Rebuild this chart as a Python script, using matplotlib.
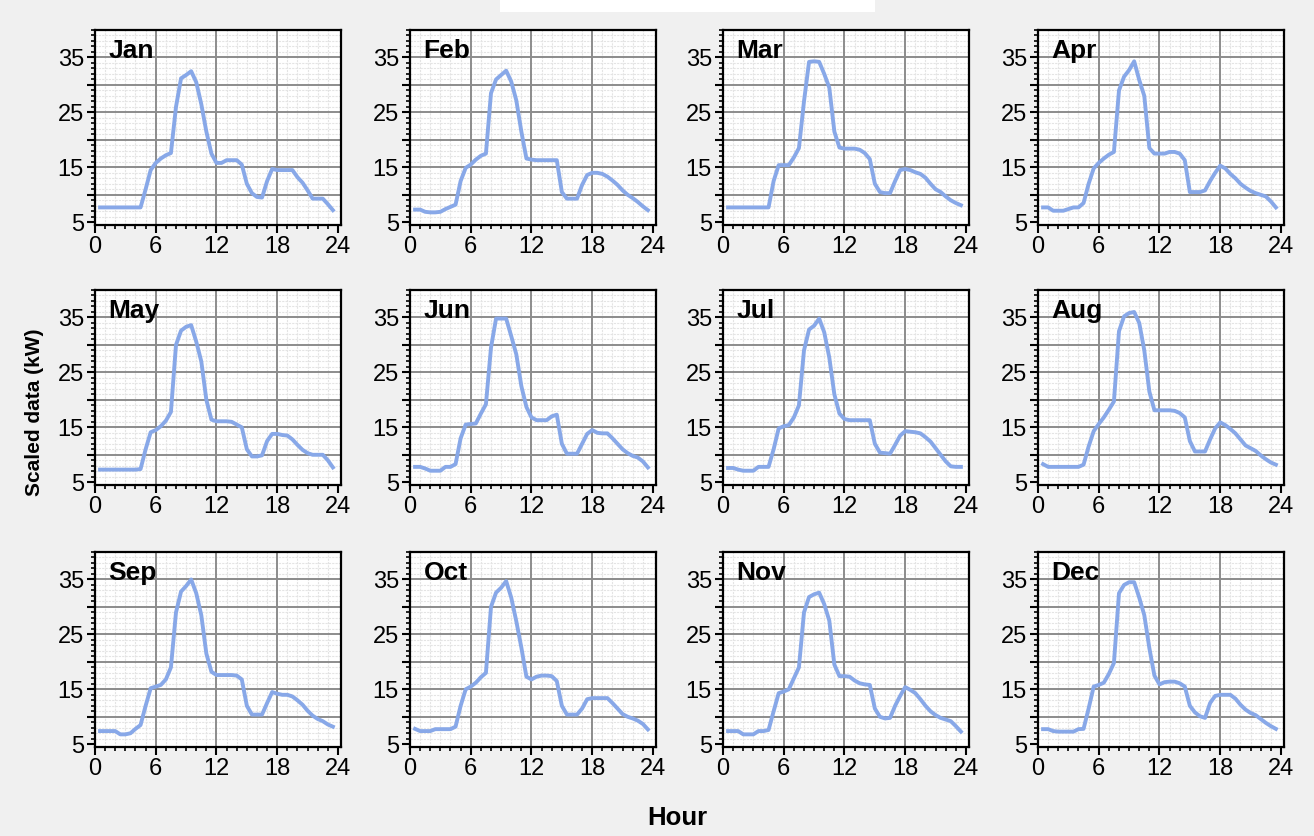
import numpy as np
import matplotlib
matplotlib.use('Agg')
import matplotlib.pyplot as plt
from matplotlib.patches import Rectangle
from matplotlib.ticker import FixedLocator

plt.rcParams['font.family'] = ['Liberation Sans', 'DejaVu Sans']

# half-hourly time stamps, 0.5 .. 23.5
hours = np.arange(0.5, 24, 0.5)

months = ['Jan', 'Feb', 'Mar', 'Apr', 'May', 'Jun',
          'Jul', 'Aug', 'Sep', 'Oct', 'Nov', 'Dec']

jan = [7.7, 7.7, 7.7, 7.7, 7.7, 7.7, 7.7, 7.7, 7.7, 11, 14.5, 15.8, 16.6, 17.2, 17.6, 26,
       31.2, 31.8, 32.5, 30.5, 26.5, 21.5, 17.5, 15.8, 15.8, 16.3, 16.3, 16.3, 15.5, 12, 10.3, 9.6,
       9.5, 12.5, 14.7, 14.5, 14.5, 14.5, 14.5, 13.2, 12.2, 10.8, 9.3, 9.3, 9.3, 8.3, 7.2]
feb = [7.3, 7.3, 6.9, 6.8, 6.8, 6.9, 7.4, 7.8, 8.2, 12.5, 14.9, 15.5, 16.4, 17.1, 17.5, 28.5,
       31, 31.8, 32.6, 30.6, 27.2, 21.5, 16.6, 16.4, 16.3, 16.3, 16.3, 16.3, 16.3, 10.5, 9.3, 9.3,
       9.3, 11.8, 13.6, 14, 14, 13.8, 13.3, 12.6, 11.8, 10.8, 10, 9.4, 8.7, 7.9, 7.2]
mar = [7.7, 7.7, 7.7, 7.7, 7.7, 7.7, 7.7, 7.7, 7.7, 12.5, 15.4, 15.4, 15.4, 16.8, 18.5, 27,
       34.2, 34.3, 34.2, 32, 29.5, 21.5, 18.6, 18.4, 18.4, 18.4, 18.2, 17.6, 16.5, 12, 10.5, 10.3,
       10.3, 12.5, 14.5, 14.7, 14.5, 14.1, 13.8, 13.1, 12, 11, 10.5, 9.7, 9, 8.5, 8.1]
apr = [7.7, 7.7, 7.1, 7.1, 7.1, 7.4, 7.7, 7.7, 8.5, 12, 14.8, 15.8, 16.6, 17.3, 17.8, 29,
       31.5, 32.7, 34.3, 30.9, 28, 18.5, 17.5, 17.5, 17.5, 17.8, 17.8, 17.5, 16.3, 10.5, 10.5, 10.5,
       10.8, 12.5, 14, 15.3, 14.8, 13.8, 13, 12, 11.3, 10.7, 10.3, 10, 9.7, 8.8, 7.7]
may = [7.3, 7.3, 7.3, 7.3, 7.3, 7.3, 7.3, 7.3, 7.4, 11, 14.1, 14.5, 15.2, 16.2, 17.8, 30,
       32.6, 33.3, 33.6, 30.6, 27, 20, 16.4, 16.1, 16.1, 16.1, 16, 15.5, 15, 11, 9.7, 9.7,
       9.9, 12.5, 13.8, 13.8, 13.6, 13.5, 12.8, 11.8, 10.9, 10.3, 10, 10, 10, 9, 7.7]
jun = [7.8, 7.8, 7.5, 7.1, 7.1, 7.1, 7.8, 7.8, 8.3, 13, 15.5, 15.6, 15.7, 17.5, 19.2, 29.5,
       34.8, 34.8, 34.8, 31.6, 28.3, 22.5, 18.7, 16.8, 16.3, 16.3, 16.3, 17, 17.3, 12, 10.2, 10.2,
       10.2, 12, 13.8, 14.5, 14, 13.9, 13.9, 13, 12, 11, 10.3, 9.8, 9.5, 8.8, 7.7]
jul = [7.6, 7.6, 7.3, 7.1, 7.1, 7.1, 7.8, 7.8, 7.8, 11, 14.8, 15.2, 15.4, 16.8, 19, 29,
       32.8, 33.5, 34.8, 32.3, 27.7, 21, 17.5, 16.5, 16.3, 16.3, 16.3, 16.3, 16.3, 12, 10.4, 10.3,
       10.2, 11.8, 13.5, 14.3, 14.2, 14.1, 13.9, 13.2, 12.4, 11.2, 10, 8.8, 7.9, 7.8, 7.8]
aug = [8.3, 7.8, 7.8, 7.8, 7.8, 7.8, 7.8, 7.8, 8.2, 11.5, 14.3, 15.6, 16.8, 18.2, 19.7, 32.5,
       35.2, 35.8, 36, 34, 29, 21.5, 18.1, 18.1, 18.1, 18.1, 18, 17.6, 16.8, 12.5, 10.6, 10.6,
       10.6, 12.8, 14.8, 15.9, 15.4, 14.7, 13.9, 12.8, 11.7, 11.2, 10.7, 9.9, 9.2, 8.6, 8.2]
sep = [7.4, 7.4, 7.4, 7.4, 6.8, 6.8, 7.0, 7.8, 8.5, 12, 15.2, 15.5, 15.8, 16.8, 19, 29,
       32.8, 33.8, 35, 32.5, 28.5, 21.5, 18.2, 17.6, 17.6, 17.6, 17.6, 17.5, 16.8, 12, 10.4, 10.4,
       10.4, 12.5, 14.5, 14.2, 14, 14, 13.7, 13, 12.2, 11.1, 10.2, 9.6, 9.2, 8.6, 8.2]
oct_ = [7.8, 7.4, 7.4, 7.4, 7.75, 7.75, 7.75, 7.75, 8.2, 12, 15, 15.5, 16.2, 17.2, 18, 30,
        32.6, 33.5, 34.7, 31.7, 27.4, 22.6, 17.3, 16.8, 17.3, 17.5, 17.5, 17.4, 16.5, 12, 10.4, 10.4,
        10.4, 11.5, 13.2, 13.4, 13.4, 13.4, 13.4, 12.5, 11.5, 10.5, 10, 9.7, 9.3, 8.7, 7.7]
nov = [7.4, 7.4, 7.4, 6.8, 6.8, 6.8, 7.4, 7.4, 7.6, 11, 14.3, 14.6, 15, 17, 19, 29,
       31.8, 32.3, 32.6, 30.5, 27.5, 19.5, 17.4, 17.4, 17.3, 16.6, 16.1, 15.9, 15.8, 11.5, 10, 9.7,
       9.8, 12, 13.8, 15.4, 14.9, 14.3, 13.2, 12, 11, 10.3, 9.8, 9.5, 9.2, 8.3, 7.3]
dec = [7.75, 7.75, 7.4, 7.3, 7.3, 7.3, 7.3, 7.75, 7.8, 11.5, 15.5, 15.8, 16.2, 17.8, 19.8, 32.5,
       34, 34.5, 34.5, 31.7, 28.5, 22.5, 17.5, 15.9, 16.3, 16.4, 16.4, 16.1, 15.5, 12, 10.8, 10.1,
       9.8, 12.5, 13.8, 14, 14, 14, 13.3, 12.2, 11.3, 10.7, 10.3, 9.6, 8.9, 8.3, 7.8]

series = [jan, feb, mar, apr, may, jun, jul, aug, sep, oct_, nov, dec]

W, H = 1314, 836
fig = plt.figure(figsize=(W / 100, H / 100), dpi=100, facecolor='#f0f0f0')

# white strip at the top of the original screenshot
fig.patches.append(Rectangle((500 / W, 1 - 12 / H), 375 / W, 12 / H,
                             transform=fig.transFigure, facecolor='white',
                             edgecolor='none', zorder=0))

lefts = [95, 410, 723, 1038]
tops = [30, 290, 552]
aw, ah = 246, 195

x_major = [0, 6, 12, 18, 24]
x_minor = [h for h in range(25) if h not in x_major]
y_major = [5, 10, 15, 20, 25, 30, 35]
y_minor = [v for v in range(5, 41) if v not in y_major]

for i, (name, vals) in enumerate(zip(months, series)):
    r, c = divmod(i, 4)
    ax = fig.add_axes([lefts[c] / W, 1 - (tops[r] + ah) / H, aw / W, ah / H])
    ax.set_facecolor('white')
    ax.plot(hours, vals, color='#88a8e8', lw=2.8, zorder=3)
    ax.set_xlim(0, 24.3)
    ax.set_ylim(4.5, 40)

    ax.xaxis.set_major_locator(FixedLocator(x_major))
    ax.xaxis.set_minor_locator(FixedLocator(x_minor))
    ax.set_yticks(y_major)
    ax.set_yticklabels(['5', '', '15', '', '25', '', '35'])
    ax.yaxis.set_minor_locator(FixedLocator(y_minor))

    # faint fine mesh from the axis, solid major lines on top of it
    ax.grid(which='minor', color='#e4e4e4', lw=0.8, ls=(0, (2, 1)))
    ax.set_axisbelow(True)
    for xv in x_major[1:-1]:
        ax.axvline(xv, color='#8c8c8c', lw=1.4, zorder=1)
    for yv in y_major[1:]:
        ax.axhline(yv, color='#8c8c8c', lw=1.4, zorder=1)

    ax.tick_params(which='major', length=6, width=1.5, labelsize=17, pad=2, colors='black')
    ax.tick_params(which='minor', length=3, width=1.2)
    for sp in ax.spines.values():
        sp.set_linewidth(1.6)
        sp.set_color('black')

    ax.text(0.055, 0.955, name, transform=ax.transAxes, ha='left', va='top',
            fontsize=19, fontweight='bold', zorder=4)

fig.text(35 / W, 1 - 412 / H, 'Scaled data (kW)', rotation=90, ha='center', va='center',
         fontsize=15, fontweight='bold')
fig.text(677 / W, 1 - 818 / H, 'Hour', ha='center', va='center',
         fontsize=18.5, fontweight='bold')

fig.savefig('out.png', dpi=100, facecolor=fig.get_facecolor())
